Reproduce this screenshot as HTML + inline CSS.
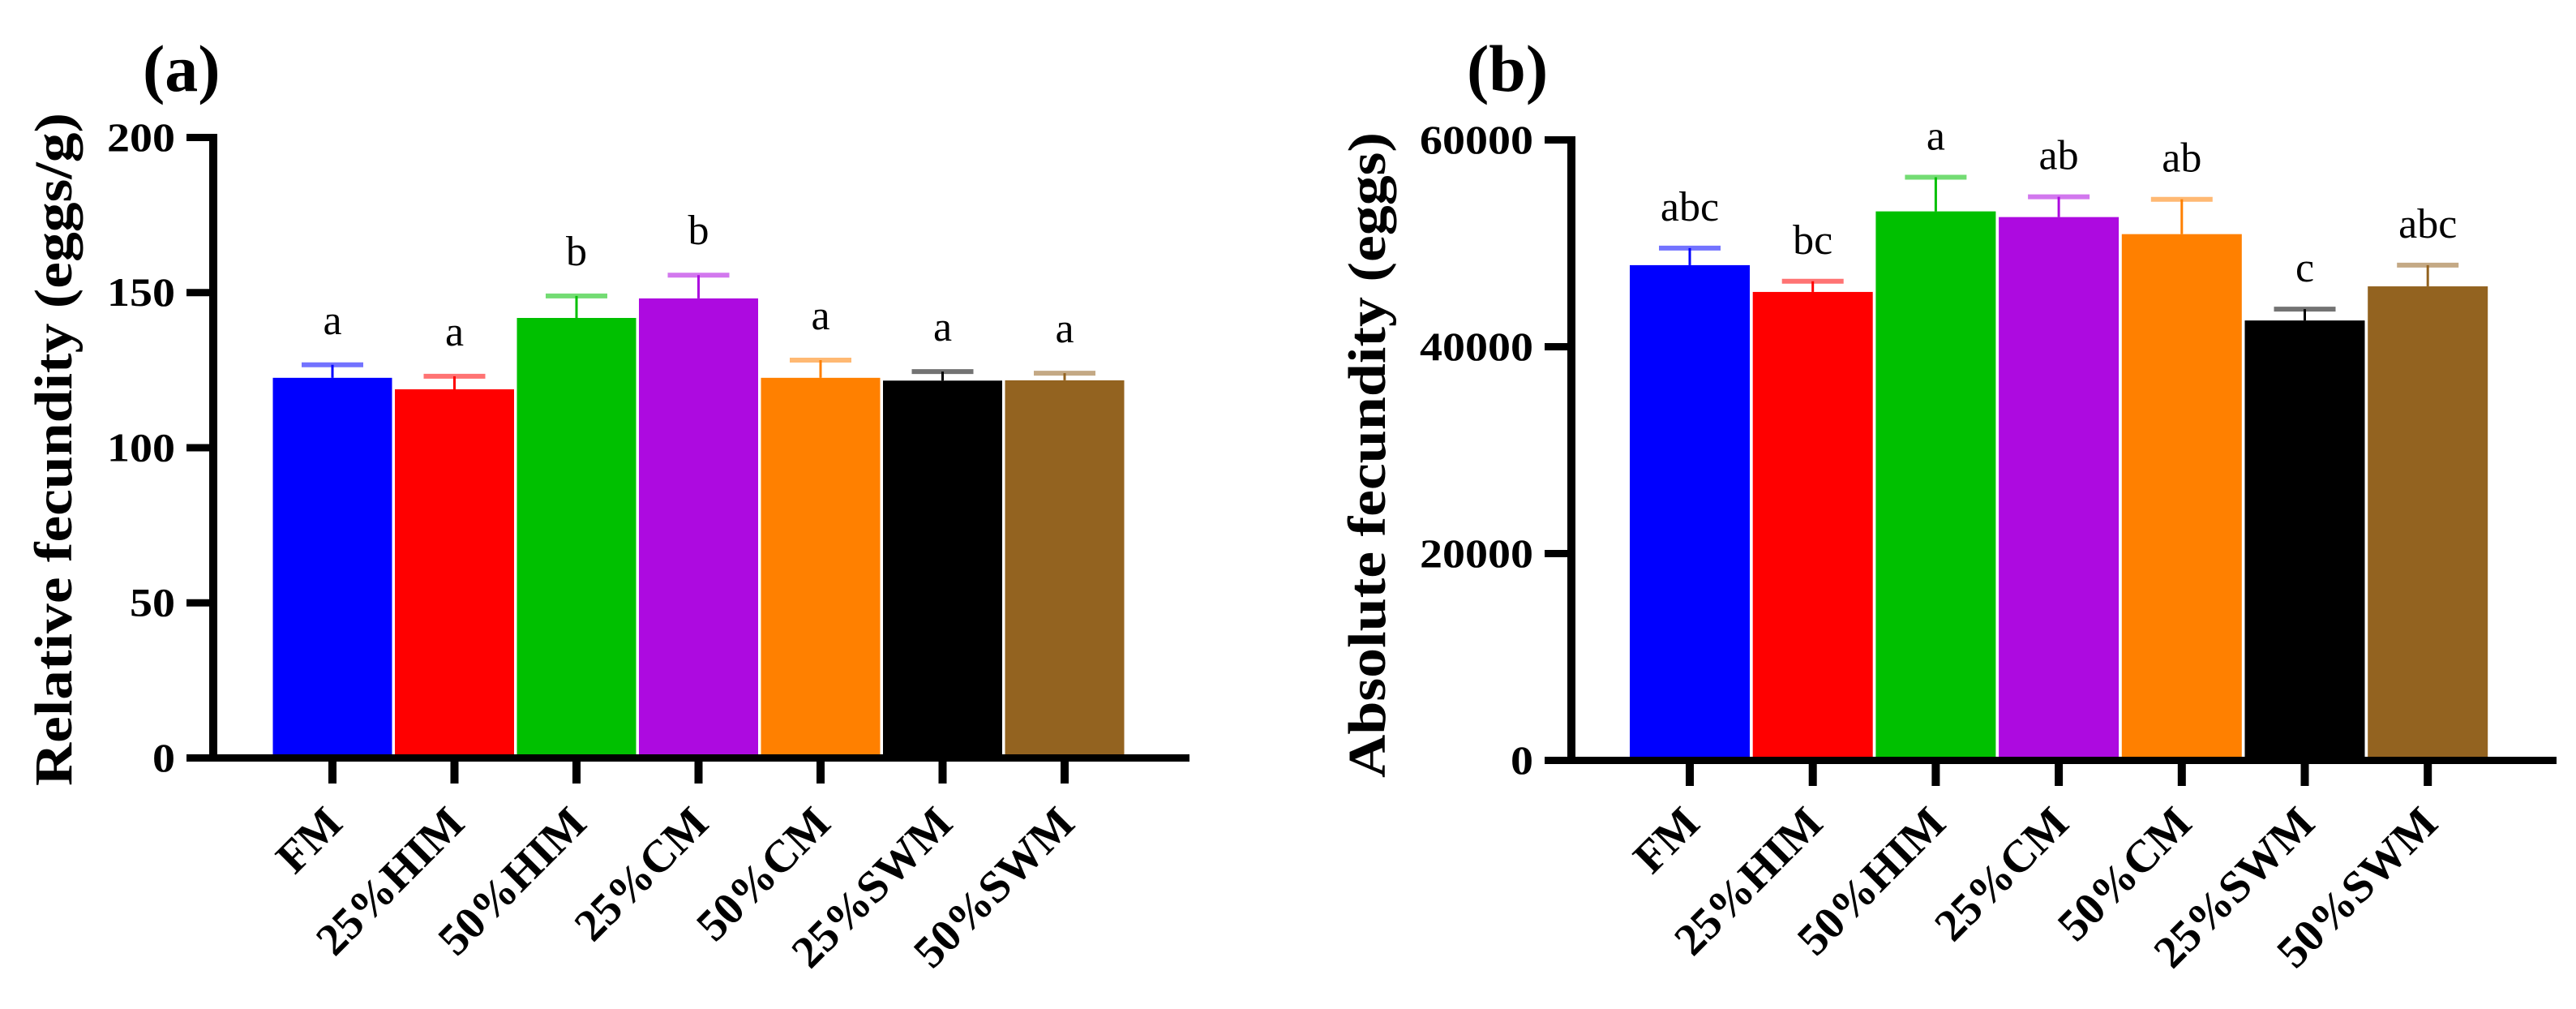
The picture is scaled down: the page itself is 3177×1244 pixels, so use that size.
<!DOCTYPE html>
<html><head><meta charset="utf-8"><style>
html,body{margin:0;padding:0;background:#fff;}
svg{display:block;font-family:"Liberation Serif","Times New Roman",serif;}
</style></head><body>
<svg id="fig" width="3177" height="1244" viewBox="0 0 3177 1244" xmlns="http://www.w3.org/2000/svg">
<text x="176" y="112" font-size="82" font-weight="bold">(a)</text>
<text x="1809" y="112" font-size="82" font-weight="bold">(b)</text>
<text transform="translate(88,554) rotate(-90)" text-anchor="middle" font-size="66" font-weight="bold" textLength="830" lengthAdjust="spacingAndGlyphs">Relative fecundity (eggs/g)</text>
<text transform="translate(1708,561) rotate(-90)" text-anchor="middle" font-size="66" font-weight="bold" textLength="796" lengthAdjust="spacingAndGlyphs">Absolute fecundity (eggs)</text>
<g id="chartA"></g>
<g id="chartB"></g>
</svg>
<script>
const categories = ["FM","25%HIM","50%HIM","25%CM","50%CM","25%SWM","50%SWM"];
const colors = ["#0000ff","#ff0000","#00c000","#ad0ae0","#ff8000","#000000","#936320"];
const relValues = [122.4, 118.7, 141.7, 148.0, 122.4, 121.5, 121.6];
const relErrors = [4.2, 4.2, 7.1, 7.5, 5.7, 2.9, 2.3];
const relLetters = ["a","a","b","b","a","a","a"];
const relTicks = [0, 50, 100, 150, 200];
const absValues = [47850, 45260, 53050, 52500, 50850, 42500, 45800];
const absErrors = [1650, 1030, 3300, 1960, 3370, 1100, 2050];
const absLetters = ["abc","bc","a","ab","ab","c","abc"];
const absTicks = [0, 20000, 40000, 60000];

const NS = "http://www.w3.org/2000/svg";
function mk(tag, attrs, parent){
  const e = document.createElementNS(NS, tag);
  for (const k in attrs) e.setAttribute(k, attrs[k]);
  parent.appendChild(e);
  return e;
}
function drawChart(g, cfg){
  const yScale = v => cfg.y0 - (v - 0) / cfg.max * (cfg.y0 - cfg.yTop);
  const xCenter = i => cfg.x0 + i * cfg.pitch;
  // bars, errors, letters
  cfg.values.forEach((v, i) => {
    const cx = xCenter(i), top = yScale(v), capY = yScale(v + cfg.errors[i]);
    const bar = mk("rect", {x: cx - cfg.bw/2, y: top, width: cfg.bw, height: cfg.y0 - top, fill: colors[i]}, g);
    
    
    const stem = mk("line", {x1: cx, x2: cx, y1: top, y2: capY, stroke: colors[i], "stroke-width": 3}, g);
    
    
    const cap = mk("line", {x1: cx - 38, x2: cx + 38, y1: capY, y2: capY, stroke: colors[i], "stroke-width": 6, "stroke-opacity": 0.55}, g);
    
    
    const lt = mk("text", {x: cx, y: capY - cfg.letterGap, "text-anchor": "middle", "font-size": 52}, g);
    lt.textContent = cfg.letters[i];
    
    
    const tk = mk("rect", {x: cx - 5, y: cfg.y0, width: 10, height: 32}, g);
    
    
    const lab = mk("text", {transform: "translate(" + (cx + 15) + "," + 1018 + ") rotate(-45)", "text-anchor": "end", "font-size": 56, "font-weight": "bold"}, g);
    lab.textContent = categories[i];
    
    
  });
  // axes
  const ya = mk("rect", {x: cfg.ax - 5, y: cfg.yTop - 4, width: 10, height: cfg.y0 - cfg.yTop + 9}, g);
  
  
  const xa = mk("rect", {x: cfg.ax - 33, y: cfg.y0 - 4, width: cfg.xEnd - cfg.ax + 33, height: 9}, g);
  
  
  cfg.ticks.forEach(t => {
    const y = yScale(t);
    const tm = mk("rect", {x: cfg.ax - 33, y: y - 4, width: 33, height: 9}, g);
    
    
    const tl = mk("text", {x: cfg.ax - 47, y: y + 17, "text-anchor": "end", "font-size": 50, "font-weight": "bold", transform: "translate(" + (cfg.ax - 47) + ",0) scale(1.12,1) translate(" + (-(cfg.ax - 47)) + ",0)"}, g);
    tl.textContent = t;
    
    
  });
}
drawChart(document.getElementById("chartA"), {
  values: relValues, errors: relErrors, letters: relLetters, ticks: relTicks,
  max: 200, y0: 934, yTop: 169, x0: 410, pitch: 150.5, bw: 147, ax: 263, xEnd: 1467, letterGap: 38
});
drawChart(document.getElementById("chartB"), {
  values: absValues, errors: absErrors, letters: absLetters, ticks: absTicks,
  max: 60000, y0: 937, yTop: 172, x0: 2084, pitch: 151.7, bw: 148, ax: 1938, xEnd: 3153, letterGap: 34
});
</script>
</body></html>
